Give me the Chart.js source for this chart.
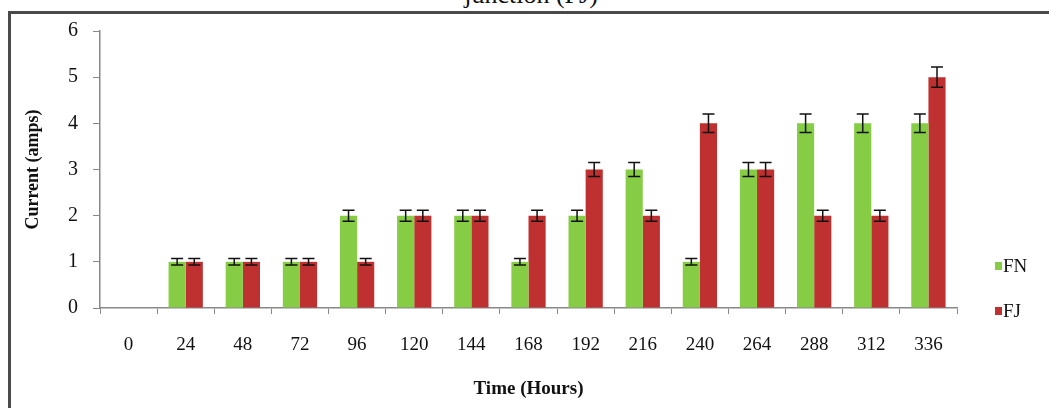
<!DOCTYPE html>
<html>
<head>
<meta charset="utf-8">
<script src="https://cdn.jsdelivr.net/npm/chart.js@4"></script>
<style>
  body { margin: 0; background: #fff; overflow: hidden; }
  #wrap { position: relative; width: 1049px; height: 408px; }
  #topTitle {
    position: absolute; left: 0; width: 1062px; top: -20px;
    text-align: center; font: 26px "Liberation Serif", serif; color: #111;
  }
  #frame {
    position: absolute; left: 8px; top: 11px; width: 1100px; height: 500px;
    border: 3px solid #4a4a4a;
  }
  #chart { position: absolute; left: 0; top: 0; }
</style>
</head>
<body>
<div id="wrap">
  <div id="topTitle">junction (FJ)</div>
  <div id="frame"></div>
  <canvas id="chart" width="1049" height="408"></canvas>
</div>
<script>
// Datos
const hours = ['0', '24', '48', '72', '96', '120', '144', '168', '192', '216', '240', '264', '288', '312', '336'];
const fnValues = [0, 1, 1, 1, 2, 2, 2, 1, 2, 3, 1, 3, 4, 4, 4];
const fjValues = [0, 1, 1, 1, 1, 2, 2, 2, 3, 2, 4, 3, 2, 2, 5];
const fnErr = [0, 0.07, 0.07, 0.07, 0.12, 0.12, 0.12, 0.07, 0.12, 0.15, 0.07, 0.15, 0.2, 0.2, 0.2];
const fjErr = [0, 0.07, 0.07, 0.07, 0.07, 0.12, 0.12, 0.12, 0.15, 0.12, 0.2, 0.15, 0.12, 0.12, 0.22];

const serif = '"Liberation Serif", "Times New Roman", serif';

// Barras de error
const errorBars = {
    id: 'errorBars',
    afterDatasetsDraw(chart) {
        const ctx = chart.ctx;
        const y = chart.scales.y;
        const errs = [fnErr, fjErr];
        ctx.save();
        ctx.strokeStyle = '#111';
        ctx.lineWidth = 1.5;
        chart.data.datasets.forEach((ds, i) => {
            chart.getDatasetMeta(i).data.forEach((bar, j) => {
                const v = ds.data[j];
                const e = errs[i][j];
                if (!v) return;
                const top = y.getPixelForValue(v + e);
                const bot = y.getPixelForValue(v - e);
                ctx.beginPath();
                ctx.moveTo(bar.x, top); ctx.lineTo(bar.x, bot);
                ctx.moveTo(bar.x - 6, top); ctx.lineTo(bar.x + 6, top);
                ctx.moveTo(bar.x - 6, bot); ctx.lineTo(bar.x + 6, bot);
                ctx.stroke();
            });
        });
        ctx.restore();
    }
};

// Leyenda
const sideLegend = {
    id: 'sideLegend',
    afterDraw(chart) {
        const ctx = chart.ctx;
        const items = [['FN', '#86cc45', 266], ['FJ', '#bf3030', 311]];
        ctx.save();
        ctx.font = '19px ' + serif;
        ctx.textBaseline = 'middle';
        items.forEach(([label, color, cy]) => {
            ctx.fillStyle = color;
            ctx.fillRect(995, cy - 4, 7, 8);
            ctx.fillStyle = '#111';
            ctx.fillText(label, 1003, cy + 1);
        });
        ctx.restore();
    }
};

new Chart(document.getElementById('chart'), {
    type: 'bar',
    data: {
        labels: hours,
        datasets: [
            { label: 'FN', data: fnValues, backgroundColor: '#86cc45', borderWidth: 0 },
            { label: 'FJ', data: fjValues, backgroundColor: '#bf3030', borderWidth: 0 }
        ]
    },
    options: {
        responsive: false,
        animation: false,
        layout: { padding: { left: 10, right: 92, top: 31, bottom: 0 } },
        datasets: { bar: { categoryPercentage: 0.6, barPercentage: 1.0 } },
        plugins: {
            legend: { display: false },
            tooltip: { enabled: false }
        },
        scales: {
            x: {
                offset: true,
                grid: { offset: true, drawOnChartArea: false, tickLength: 6, color: '#888' },
                border: { color: '#888', width: 1.5 },
                ticks: { color: '#111', font: { family: serif, size: 19 }, padding: 20 },
                title: {
                    display: true, text: 'Time (Hours)', color: '#111',
                    font: { family: serif, size: 19, weight: 'bold' },
                    padding: { top: 0, bottom: 8 }
                },
                afterFit: s => { s.height = 100; }
            },
            y: {
                min: 0, max: 6,
                grid: { drawOnChartArea: false, tickLength: 7, color: '#888' },
                border: { color: '#888', width: 1.5 },
                ticks: { stepSize: 1, color: '#111', font: { family: serif, size: 20 }, padding: 15 },
                title: {
                    display: true, text: 'Current (amps)', color: '#111',
                    font: { family: serif, size: 18, weight: 'bold' },
                    padding: { top: 13, bottom: 0 }
                },
                afterFit: s => { s.width = 90; }
            }
        }
    },
    plugins: [errorBars, sideLegend]
});
</script>
</body>
</html>
